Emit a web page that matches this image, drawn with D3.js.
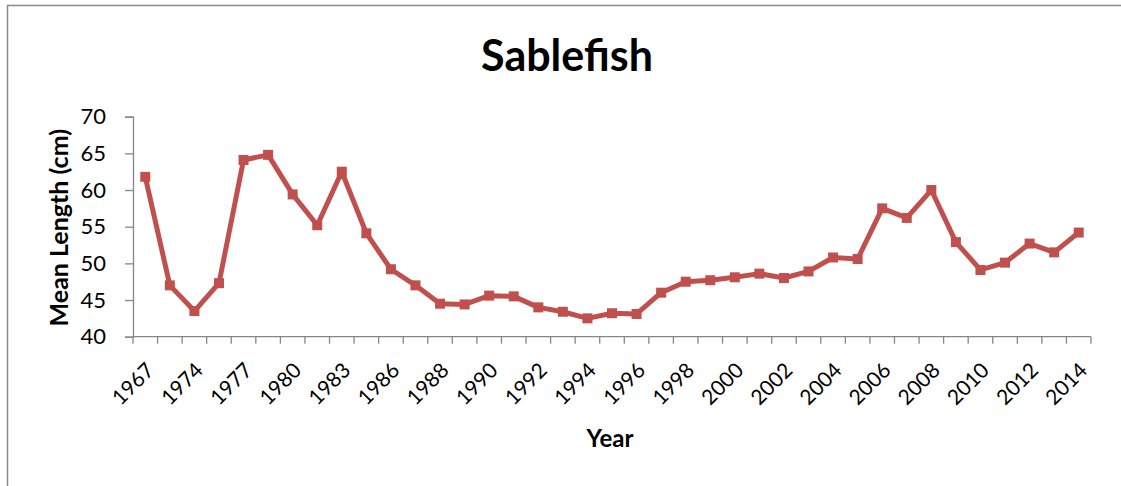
<!DOCTYPE html>
<html>
<head>
<meta charset="utf-8">
<script src="https://cdn.jsdelivr.net/npm/d3@7"></script>
<style>
  html, body { margin: 0; padding: 0; background: #fff; }
  svg { display: block; }
  text { font-family: Lato, "Open Sans", sans-serif; fill: #000; }
</style>
</head>
<body>
<svg id="chart" width="1121" height="486"></svg>
<script>
// Survey years (every second one is labelled on the axis)
const years = [
  "1967", "1970", "1974", "1975", "1977", "1978", "1980", "1981", "1983", "1984",
  "1986", "1987", "1988", "1989", "1990", "1991", "1992", "1993", "1994", "1995",
  "1996", "1997", "1998", "1999", "2000", "2001", "2002", "2003", "2004", "2005",
  "2006", "2007", "2008", "2009", "2010", "2011", "2012", "2013", "2014"
];
// Mean length (cm) for each survey year
const meanLength = [
  61.8, 47.0, 43.5, 47.3, 64.1, 64.8, 59.4, 55.2, 62.5, 54.1,
  49.2, 47.0, 44.5, 44.4, 45.6, 45.5, 44.0, 43.4, 42.5, 43.2,
  43.1, 46.0, 47.5, 47.7, 48.1, 48.6, 48.0, 48.9, 50.8, 50.6,
  57.5, 56.2, 60.0, 52.9, 49.1, 50.1, 52.7, 51.5, 54.2
];
const yTicks = [40, 45, 50, 55, 60, 65, 70];

const svg = d3.select("#chart");
const plot = { left: 133, right: 1091, top: 116.7, bottom: 336.7 };

// Chart frame
svg.append("rect")
  .attr("x", 7.5).attr("y", 5.5)
  .attr("width", 1200).attr("height", 600)
  .attr("fill", "none").attr("stroke", "#898989").attr("stroke-width", 1.5);

const x = d3.scaleBand().domain(years).range([plot.left, plot.right]).padding(0);
const y = d3.scaleLinear().domain([40, 70]).range([plot.bottom, plot.top]);

// Title
svg.append("text")
  .attr("x", 567).attr("y", 71)
  .attr("text-anchor", "middle")
  .attr("font-size", 43).attr("font-weight", "bold")
  .text("Sablefish");

// Y axis
const yAxis = svg.append("g")
  .attr("transform", `translate(${plot.left},0)`)
  .call(d3.axisLeft(y).tickValues(yTicks).tickSize(8).tickPadding(19));
yAxis.select(".domain").attr("stroke", "#868686").attr("stroke-width", 1.3);
yAxis.selectAll(".tick line").attr("stroke", "#868686").attr("stroke-width", 1.3);
yAxis.selectAll(".tick text").attr("font-size", 22).attr("font-family", "Lato, sans-serif").attr("fill", "#000");

// X axis: ticks on category boundaries, labels on every other category
const xAxisG = svg.append("g").attr("transform", `translate(0,${plot.bottom})`);
xAxisG.append("line")
  .attr("x1", plot.left).attr("x2", plot.right)
  .attr("stroke", "#868686").attr("stroke-width", 1.3);
const boundaries = years.map(d => x(d)).concat([x(years[years.length - 1]) + x.bandwidth()]);
xAxisG.selectAll("line.tick")
  .data(boundaries)
  .join("line")
  .attr("class", "tick")
  .attr("x1", d => d).attr("x2", d => d)
  .attr("y1", 0).attr("y2", 7)
  .attr("stroke", "#868686").attr("stroke-width", 1.3);
xAxisG.selectAll("text.lab")
  .data(years.filter((d, i) => i % 2 === 0))
  .join("text")
  .attr("class", "lab")
  .attr("font-size", 21)
  .attr("text-anchor", "end")
  .attr("transform", d => `translate(${x(d) + x.bandwidth() / 2 + 10},${35}) rotate(-45)`)
  .text(d => d);

// Axis titles
svg.append("text")
  .attr("transform", `translate(68,${(plot.top + plot.bottom) / 2 + 1}) rotate(-90)`)
  .attr("text-anchor", "middle")
  .attr("font-size", 25).attr("font-weight", "bold")
  .text("Mean Length (cm)");
svg.append("text")
  .attr("x", 610).attr("y", 447)
  .attr("text-anchor", "middle")
  .attr("font-size", 24).attr("font-weight", "bold")
  .text("Year");

// Series line with square markers
const color = "#c0504d";
const data = years.map((yr, i) => ({ yr, v: meanLength[i] }));
const cx = d => x(d.yr) + x.bandwidth() / 2;
svg.append("path")
  .datum(data)
  .attr("fill", "none")
  .attr("stroke", color)
  .attr("stroke-width", 5)
  .attr("stroke-linejoin", "round")
  .attr("d", d3.line().x(cx).y(d => y(d.v)));
const m = 10;
svg.selectAll("rect.marker")
  .data(data)
  .join("rect")
  .attr("class", "marker")
  .attr("x", d => cx(d) - m / 2)
  .attr("y", d => y(d.v) - m / 2)
  .attr("width", m).attr("height", m)
  .attr("fill", color);
</script>
</body>
</html>
